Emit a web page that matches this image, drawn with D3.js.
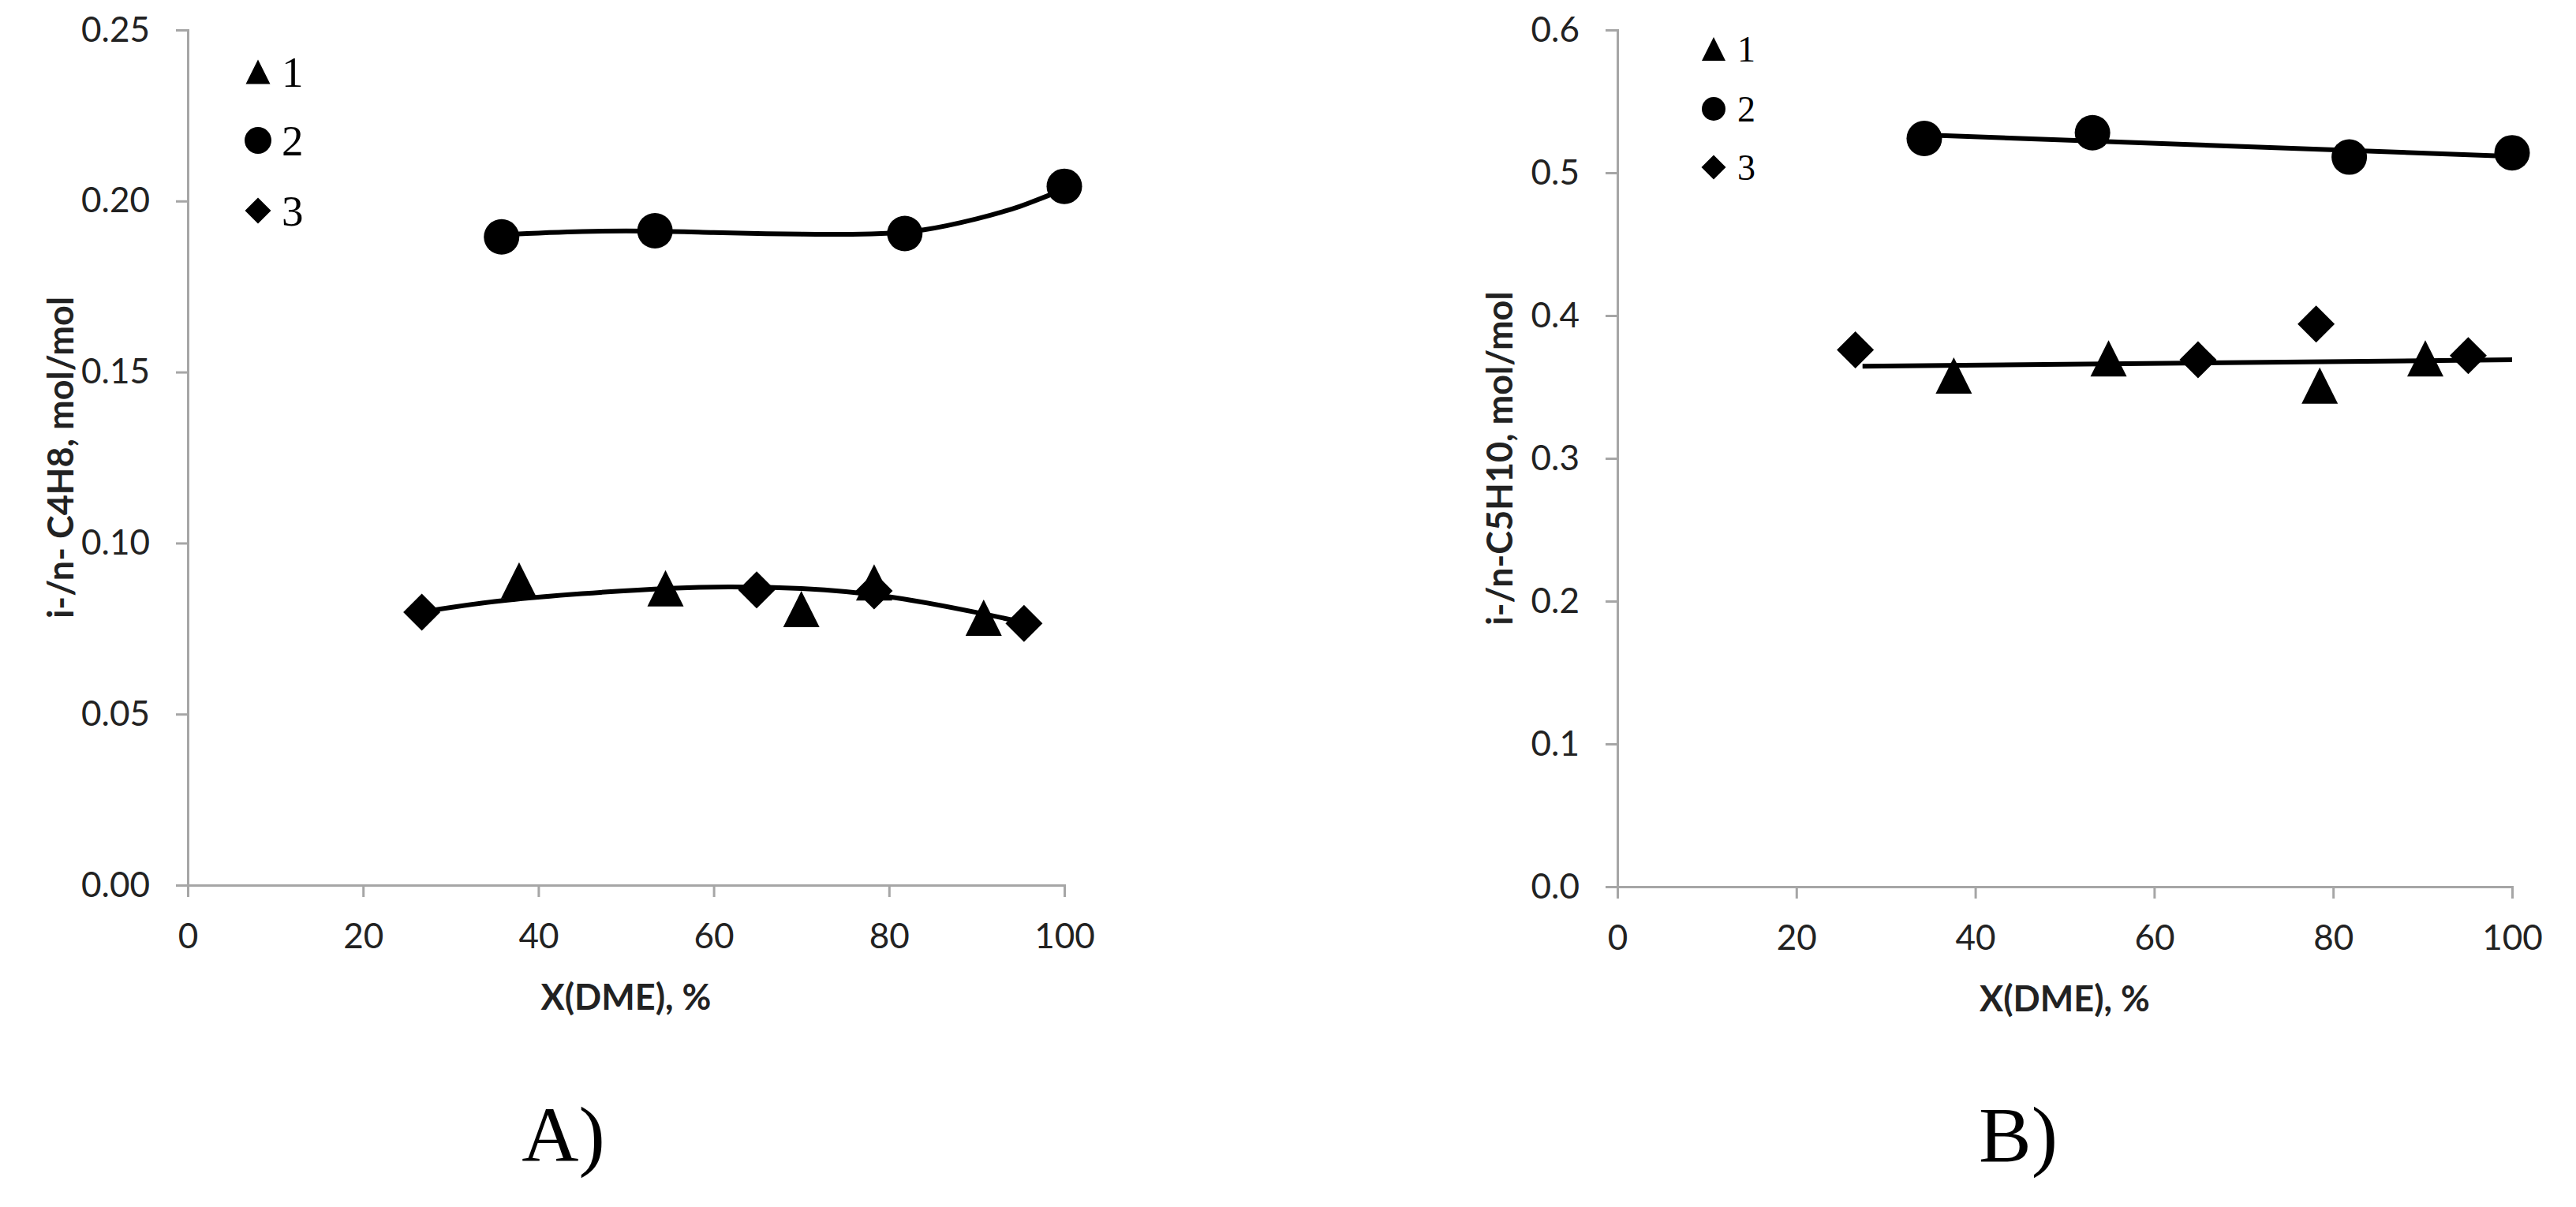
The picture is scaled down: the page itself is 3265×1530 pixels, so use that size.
<!DOCTYPE html>
<html>
<head>
  <meta charset="utf-8">
  <title>i-/n- ratio vs X(DME)</title>
  <script src="https://cdn.jsdelivr.net/npm/d3@7"></script>
  <style>
    body { margin: 0; background: #fff; }
    .tick text { font-family: Lato, "Open Sans", sans-serif; fill: #222; }
  </style>
</head>
<body>
  <div id="chart"></div>
  <script>
    // ---- data ----
    const xTicks = [0, 20, 40, 60, 80, 100];
    const aYTicks = [0, 0.05, 0.10, 0.15, 0.20, 0.25];
    const bYTicks = [0, 0.1, 0.2, 0.3, 0.4, 0.5, 0.6];
    const legendNames = ["1", "2", "3"];

    // panel A : i-/n- C4H8
    const aS1X = [37.8, 54.5, 70.0, 78.3, 90.8];
    const aS1Y = [0.0891, 0.0868, 0.0807, 0.0885, 0.0782];
    const aS2X = [35.8, 53.3, 81.8, 100];
    const aS2Y = [0.1895, 0.1913, 0.1905, 0.2043];
    const aS3X = [26.7, 64.9, 78.3, 95.4];
    const aS3Y = [0.0798, 0.0863, 0.0860, 0.0765];
    // trend lines
    const aFit13X = [27, 35, 45, 55, 62, 70, 80, 90, 95];
    const aFit13Y = [0.0800, 0.0829, 0.0852, 0.0868, 0.0872, 0.0867, 0.0843, 0.0797, 0.0770];
    const aFit2X = [35.8, 45, 53, 60, 70, 78, 84, 90, 95, 100];
    const aFit2Y = [0.1902, 0.1911, 0.1912, 0.1908, 0.1903, 0.1904, 0.1916, 0.1948, 0.1985, 0.2035];

    // panel B : i-/n-C5H10
    const bS1X = [37.6, 54.9, 78.5, 90.3];
    const bS1Y = [0.358, 0.370, 0.351, 0.370];
    const bS2X = [34.3, 53.1, 81.8, 100];
    const bS2Y = [0.524, 0.528, 0.511, 0.514];
    const bS3X = [26.6, 64.9, 78.1, 95.1];
    const bS3Y = [0.376, 0.369, 0.394, 0.372];
    const bFit13X = [27.4, 100];
    const bFit13Y = [0.3645, 0.369];
    const bFit2X = [34.3, 100];
    const bFit2Y = [0.5265, 0.5115];

    const W = 3265, H = 1530;
    const svg = d3.select("#chart").append("svg")
      .attr("width", W).attr("height", H);

    // Excel-like marker shapes: size = side of bounding box squared
    const triangleType = {
      draw(ctx, size) {
        const s = Math.sqrt(size), h = s / 2;
        ctx.moveTo(0, -h); ctx.lineTo(h, h); ctx.lineTo(-h, h); ctx.closePath();
      }
    };
    const diamondType = {
      draw(ctx, size) {
        const h = Math.sqrt(size) / 2;
        ctx.moveTo(0, -h); ctx.lineTo(h, 0); ctx.lineTo(0, h); ctx.lineTo(-h, 0); ctx.closePath();
      }
    };
    const circleType = {
      draw(ctx, size) {
        const r = Math.sqrt(size) / 2;
        ctx.moveTo(r, 0); ctx.arc(0, 0, r, 0, 2 * Math.PI);
      }
    };
    const shapes = [triangleType, circleType, diamondType];

    function zip(xs, ys) { return xs.map((x, i) => [x, ys[i]]); }

    function drawPanel(p) {
      const x = d3.scaleLinear().domain([0, 100]).range([p.left, p.right]);
      const y = d3.scaleLinear().domain(p.yDomain).range([p.bottom, p.top]);
      const g = svg.append("g");

      // x axis
      const xa = g.append("g")
        .attr("transform", `translate(0,${p.bottom})`)
        .call(d3.axisBottom(x).tickValues(xTicks).tickSize(15).tickPadding(34).tickFormat(d3.format("d")));
      // y axis
      const ya = g.append("g")
        .attr("transform", `translate(${p.left},0)`)
        .call(d3.axisLeft(y).tickValues(p.yTicks).tickSize(15).tickPadding(33).tickFormat(d3.format(p.yFmt)));
      [xa, ya].forEach(a => {
        a.select(".domain").attr("stroke", "#a6a6a6").attr("stroke-width", 3);
        a.selectAll(".tick line").attr("stroke", "#a6a6a6").attr("stroke-width", 3);
        a.selectAll(".tick text").attr("font-size", 44);
      });
      xa.selectAll(".tick text").attr("dy", "0.71em");

      // titles
      g.append("text")
        .attr("x", (p.left + p.right) / 2).attr("y", p.bottom + 158)
        .attr("text-anchor", "middle")
        .attr("font-family", "Lato, sans-serif").attr("font-weight", "bold")
        .attr("font-size", 45).attr("fill", "#222")
        .text("X(DME), %");
      g.append("text")
        .attr("transform", `translate(${p.yTitleX},${(p.top + p.bottom) / 2}) rotate(-90)`)
        .attr("text-anchor", "middle").attr("dominant-baseline", "central")
        .attr("font-family", "Lato, sans-serif").attr("font-weight", "bold")
        .attr("font-size", 45).attr("fill", "#222")
        .text(p.yTitle);

      // trend lines
      const line = d3.line().x(d => x(d[0])).y(d => y(d[1])).curve(d3.curveNatural);
      p.fits.forEach(f => {
        g.append("path").datum(f)
          .attr("d", line)
          .attr("fill", "none").attr("stroke", "#000").attr("stroke-width", 6);
      });

      // markers
      p.series.forEach((s, i) => {
        g.selectAll(null).data(s).enter().append("path")
          .attr("transform", d => `translate(${x(d[0])},${y(d[1])})`)
          .attr("d", d3.symbol().type(shapes[i]).size(p.markerSize[i] ** 2))
          .attr("fill", "#000");
      });

      // legend
      legendNames.forEach((name, i) => {
        const ly = p.legendY[i];
        g.append("path")
          .attr("transform", `translate(${p.legendX},${ly})`)
          .attr("d", d3.symbol().type(shapes[i]).size(p.legendSize[i] ** 2))
          .attr("fill", "#000");
        g.append("text")
          .attr("x", p.legendX + 30).attr("y", ly + p.legendFont * 0.34)
          .attr("font-family", "'Liberation Serif', 'Times New Roman', serif")
          .attr("font-size", p.legendFont).attr("fill", "#000")
          .text(name);
      });

      // panel label
      g.append("text")
        .attr("x", p.tagX).attr("y", 1472)
        .attr("text-anchor", "middle")
        .attr("font-family", "'Liberation Serif', 'Times New Roman', serif")
        .attr("font-size", 100).attr("fill", "#000")
        .text(p.tag);
    }

    drawPanel({
      left: 238, right: 1349, top: 38, bottom: 1122,
      yDomain: [0, 0.25], yTicks: aYTicks, yFmt: ".2f",
      yTitle: "i-/n- C4H8, mol/mol", yTitleX: 76,
      series: [zip(aS1X, aS1Y), zip(aS2X, aS2Y), zip(aS3X, aS3Y)],
      fits: [zip(aFit13X, aFit13Y), zip(aFit2X, aFit2Y)],
      markerSize: [46, 45, 47],
      legendX: 327, legendY: [91, 178, 267], legendSize: [31, 34, 33], legendFont: 55,
      tag: "A)", tagX: 714
    });

    drawPanel({
      left: 2050, right: 3184, top: 38, bottom: 1124,
      yDomain: [0, 0.6], yTicks: bYTicks, yFmt: ".1f",
      yTitle: "i-/n-C5H10, mol/mol", yTitleX: 1900,
      series: [zip(bS1X, bS1Y), zip(bS2X, bS2Y), zip(bS3X, bS3Y)],
      fits: [zip(bFit13X, bFit13Y), zip(bFit2X, bFit2Y)],
      markerSize: [46, 45, 47],
      legendX: 2172, legendY: [62, 138, 212], legendSize: [30, 30, 31], legendFont: 46,
      tag: "B)", tagX: 2558
    });
  </script>
</body>
</html>
